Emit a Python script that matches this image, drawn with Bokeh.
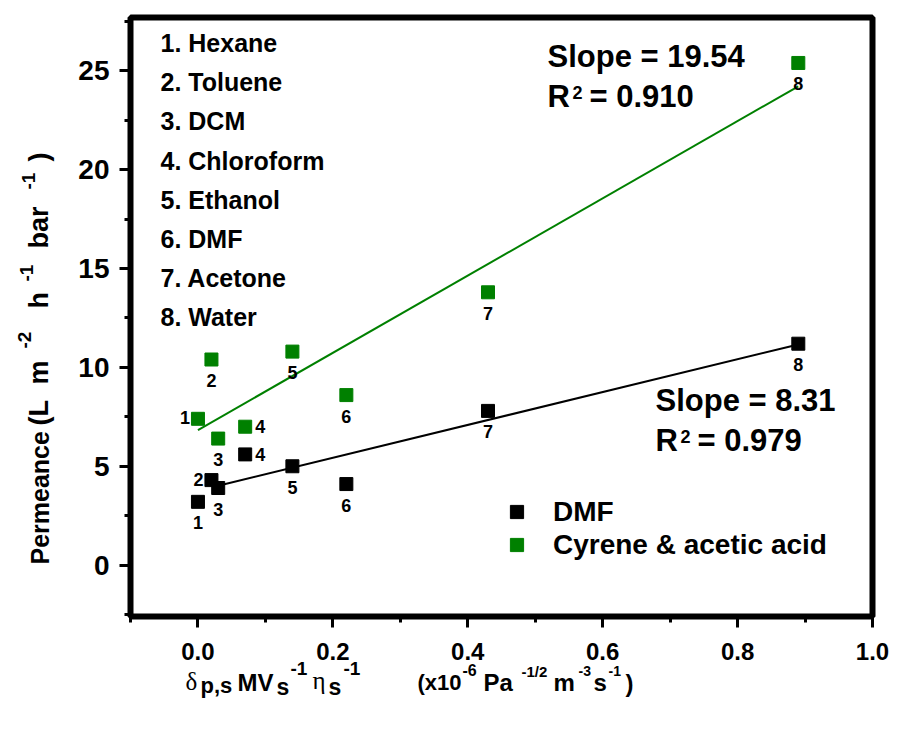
import numpy as np
from bokeh.plotting import figure
from bokeh.models import (Range1d, FixedTicker, PrintfTickFormatter, Label,
                          Legend, LegendItem, ColumnDataSource)
from bokeh.embed import file_html
from bokeh.resources import INLINE

# ---- data -------------------------------------------------------------
solvent_no = ["1", "2", "3", "4", "5", "6", "7", "8"]
solvent_names = ["Hexane", "Toluene", "DCM", "Chloroform",
                 "Ethanol", "DMF", "Acetone", "Water"]
# delta_p,s * MV_s^-1 * eta_s^-1  (x10^-6 Pa^-1/2 m^-3 s^-1)
solvent_param = [0.0, 0.02, 0.03, 0.07, 0.14, 0.22, 0.43, 0.89]
perm_dmf = [3.2, 4.3, 3.9, 5.6, 5.0, 4.1, 7.8, 11.2]
perm_cyrene = [7.4, 10.4, 6.4, 7.0, 10.8, 8.6, 13.8, 25.4]

# linear fits
slope_dmf, r2_dmf = 8.31, 0.979
slope_cyrene, r2_cyrene = 19.54, 0.910
fit_span_dmf = [0.03, 0.89]
fit_span_cyrene = [0.0, 0.89]

x_ticks = [0.0, 0.2, 0.4, 0.6, 0.8, 1.0]
x_minor = [-0.1, 0.1, 0.3, 0.5, 0.7, 0.9]
y_ticks = [0, 5, 10, 15, 20, 25]
y_minor = [-2.5, 2.5, 7.5, 12.5, 17.5, 22.5, 27.5]

# where each point number sits relative to its marker
side_dmf = ["below", "left", "below", "right", "below", "below", "below", "below"]
side_cyrene = ["left", "below", "below", "right", "below", "below", "below", "below"]

# ---- styling ----------------------------------------------------------
SANS = "Liberation Sans"
SERIF = "Liberation Serif"
GREEN = "#008000"
OFFSETS = {"below": (0, 21), "left": (-13, -1), "right": (15, 0)}

# page position of the plotting frame
FL, FR, FT, FB = 130, 872, 17, 616
W, H = 899, 734

p = figure(width=W, height=H, output_backend="svg", toolbar_location=None,
           x_range=Range1d(-0.1, 1.0), y_range=Range1d(-2.6, 27.7),
           min_border_left=FL, min_border_right=W - FR,
           min_border_top=FT, min_border_bottom=H - FB)
p.background_fill_color = "white"
p.border_fill_color = "white"
p.grid.visible = False
p.outline_line_color = "black"
p.outline_line_width = 6

for ax in (p.xaxis[0], p.yaxis[0]):
    ax.axis_line_color = None
    ax.major_tick_line_width = 3
    ax.minor_tick_line_width = 3
    ax.major_tick_out = 11
    ax.major_tick_in = 0
    ax.minor_tick_out = 6
    ax.minor_tick_in = 0
    ax.major_label_text_font = SANS
    ax.major_label_text_font_style = "bold"
    ax.major_label_text_color = "black"

p.xaxis.ticker = FixedTicker(ticks=x_ticks, minor_ticks=x_minor)
p.yaxis.ticker = FixedTicker(ticks=y_ticks, minor_ticks=y_minor)
p.xaxis.formatter = PrintfTickFormatter(format="%.1f")
p.yaxis.formatter = PrintfTickFormatter(format="%d")
p.xaxis.major_label_text_font_size = "24px"
p.yaxis.major_label_text_font_size = "28px"
p.xaxis.major_label_standoff = 15
p.yaxis.major_label_standoff = 10


# ---- fit lines (least-squares intercept for the stated slope) ---------
def fit_line(xs, ys, slope, span):
    b = np.mean(ys) - slope * np.mean(xs)
    xx = np.array(span)
    return xx, slope * xx + b


fx, fy = fit_line(solvent_param, perm_dmf, slope_dmf, fit_span_dmf)
p.line(fx, fy, line_color="black", line_width=2)
fx, fy = fit_line(solvent_param, perm_cyrene, slope_cyrene, fit_span_cyrene)
p.line(fx, fy, line_color=GREEN, line_width=2)

# ---- markers and their numbers ----------------------------------------
renderers = {}
for name, perm, side, color in (("DMF", perm_dmf, side_dmf, "black"),
                                ("Cyrene & acetic acid", perm_cyrene, side_cyrene, GREEN)):
    src = ColumnDataSource(dict(
        x=solvent_param, y=perm, num=solvent_no,
        dx=[OFFSETS[s][0] for s in side], dy=[OFFSETS[s][1] for s in side]))
    renderers[name] = p.scatter("x", "y", source=src, marker="square", size=13,
                                fill_color=color, line_color=color)
    p.text("x", "y", text="num", source=src, x_offset="dx", y_offset="dy",
           text_font={"value": SANS}, text_font_style="bold",
           text_font_size="18px", text_color="black",
           text_align="center", text_baseline="middle")

legend = Legend(items=[LegendItem(label=k, renderers=[v]) for k, v in renderers.items()],
                location=(370, 55), orientation="vertical",
                glyph_width=33, glyph_height=33, spacing=0, padding=0,
                label_standoff=20, margin=0,
                label_text_font=SANS, label_text_font_style="bold",
                label_text_font_size="28px", label_text_color="black",
                border_line_color=None, background_fill_alpha=0)
p.add_layout(legend)

# ---- a transparent sheet laid over the whole page for the text --------
# its data space is the page itself (x right, y down), so titles outside
# the plotting frame are not cut off
sheet = figure(width=W, height=H, output_backend="svg", toolbar_location=None,
               x_range=Range1d(0, W), y_range=Range1d(H, 0),
               x_axis_type=None, y_axis_type=None, min_border=0)
sheet.grid.visible = False
sheet.outline_line_color = None
sheet.background_fill_color = None
sheet.border_fill_color = None
sheet.styles = {"position": "absolute", "left": "0px", "top": "0px"}


def put(text, px, py, size, font=SANS, style="bold", vertical=False):
    """Place text whose baseline starts at page point (px, py)."""
    lift = 0.35 * size
    if vertical:
        x, y, angle = px - lift, py, np.pi / 2
    else:
        x, y, angle = px, py - lift, 0.0
    sheet.add_layout(Label(x=x, y=y, text=text, angle=angle, text_font=font,
                           text_font_style=style, text_font_size=f"{size}px",
                           text_color="black", text_align="left",
                           text_baseline="middle"))


# solvent key
for i, (n, s) in enumerate(zip(solvent_no, solvent_names)):
    put(f"{n}. {s}", 160, 51.5 + i * 39.1, 25)

# fit statistics
for slope, r2, px, py in ((slope_cyrene, r2_cyrene, 547, 67),
                          (slope_dmf, r2_dmf, 655, 411)):
    put(f"Slope = {slope:.2f}", px, py, 31)
    put("R", px, py + 40, 31)
    put("2", px + 25, py + 31, 18)
    put(f"= {r2:.3f}", px + 42, py + 40, 31)

# x-axis title
x_title = [("\u03b4", 185, 690, 25, SERIF, "normal"),
           ("p,s", 200, 693, 22, SANS, "bold"),
           ("MV", 237, 690, 24, SANS, "bold"),
           ("s", 276, 695, 23, SANS, "bold"),
           ("-1", 290, 675, 19, SANS, "bold"),
           ("\u03b7", 312, 689, 25, SERIF, "normal"),
           ("s", 328, 695, 23, SANS, "bold"),
           ("-1", 343, 675, 19, SANS, "bold"),
           ("(x10", 417, 690, 22, SANS, "bold"),
           ("-6", 462, 675, 16, SANS, "bold"),
           ("Pa", 483, 690, 24, SANS, "bold"),
           ("-1/2", 521, 676, 15, SANS, "bold"),
           ("m", 553, 690, 24, SANS, "bold"),
           ("-3", 578, 675, 14, SANS, "bold"),
           ("s", 593, 690, 24, SANS, "bold"),
           ("-1", 608, 675, 14, SANS, "bold"),
           (")", 625, 691, 24, SANS, "bold")]
for t, px, py, size, font, style in x_title:
    put(t, px, py, size, font, style)

# y-axis title, read bottom to top
y_title = [("Permeance", 48, 564, 25),
           ("(L", 48, 425, 27),
           ("m", 48, 384, 27),
           ("-2", 31, 348, 19),
           ("h", 48, 308, 27),
           ("-1", 33, 281, 19),
           ("bar", 48, 248, 27),
           ("-1", 35, 189, 19),
           (")", 48, 161, 27)]
for t, px, py, size in y_title:
    put(t, px, py, size, vertical=True)

open("out.html", "w").write(file_html([p, sheet], INLINE))
